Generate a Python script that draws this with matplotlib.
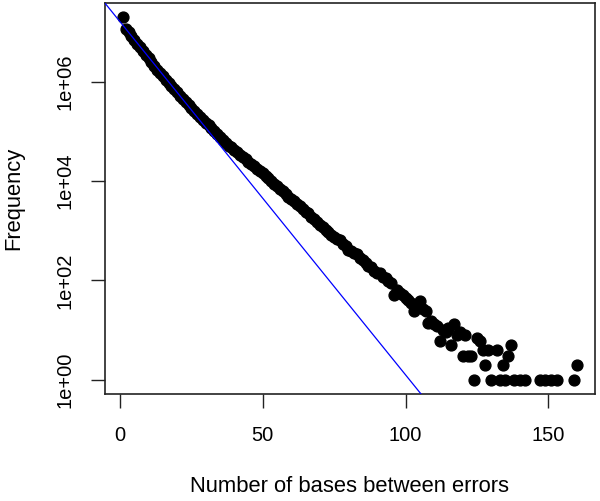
import numpy as np
import matplotlib
matplotlib.use("Agg")
import matplotlib.pyplot as plt

# distance between errors (bases) and how often it was seen
gap_dense = list(range(1, 91))
freq_dense = [
    2.0e7, 1.17e7, 1.0e7, 8.3e6, 7.0e6, 5.9e6, 4.95e6, 4.17e6, 3.5e6, 2.95e6,
    2.48e6, 2.09e6, 1.76e6, 1.48e6, 1.29e6, 1.10e6, 9.5e5, 8.1e5, 7.1e5, 6.2e5,
    5.2e5, 4.6e5, 3.9e5, 3.4e5, 2.95e5, 2.57e5, 2.24e5, 1.95e5, 1.70e5, 1.51e5,
    1.32e5, 1.15e5, 1.0e5, 8.7e4, 7.6e4, 6.8e4, 5.9e4, 5.2e4, 4.8e4, 4.3e4,
    3.8e4, 3.4e4, 3.1e4, 2.75e4, 2.45e4, 2.24e4, 2.0e4, 1.78e4, 1.62e4, 1.45e4,
    1.29e4, 1.15e4, 1.0e4, 8900, 7900, 7100, 6300, 5600, 4900, 4400,
    3900, 3500, 3100, 2700, 2400, 2250, 1900, 1700, 1480, 1280,
    1170, 1050, 930, 830, 740, 680, 640, 550, 490, 420,
    400, 355, 340, 290, 260, 220, 200, 190, 158, 141,
]
gap_tail = [91, 92, 93, 94, 95, 96, 97, 98, 99, 100,
            101, 102, 103, 104, 105, 106, 107, 108, 109, 110,
            111, 112, 113, 114, 115, 116, 117, 118, 119, 120,
            121, 122, 123, 124, 125, 126, 127, 128, 129, 130,
            132, 133, 134, 135, 136, 137, 138, 140, 142, 147,
            149, 151, 153, 159, 160]
freq_tail = [141, 118, 112, 98, 89, 52, 63, 56, 50, 45,
             41, 35, 24, 31, 39, 27, 24, 14, 15, 13,
             12, 6, 10, 9, 11, 5, 13, 8, 9, 3,
             8, 3, 3, 1, 7, 6, 4, 2, 4, 1,
             4, 1, 2, 1, 3, 5, 1, 1, 1, 1,
             1, 1, 1, 1, 2]

# fitted geometric model: log10(freq) = fit_a + fit_b * gap
fit_a = 7.21
fit_b = -0.0711

gaps = np.array(gap_dense + gap_tail)
freqs = np.array(freq_dense + freq_tail, dtype=float)

plt.rcParams["font.family"] = ["Liberation Sans", "DejaVu Sans"]

fig = plt.figure(figsize=(6, 5.01), dpi=100)
ax = fig.add_axes([104.7 / 600, 1 - 394.3 / 501, (595 - 104.7) / 600, (394.3 - 2.7) / 501])

ax.plot(gaps, freqs, "o", color="black", markersize=7.8, zorder=2)

xx = np.array([-20.0, 200.0])
ax.plot(xx, 10 ** (fit_a + fit_b * xx), color="blue", linewidth=0.9, zorder=3)

ax.set_yscale("log")
# R style 4% padding
xr = gaps.max() - gaps.min()
ax.set_xlim(gaps.min() - 0.04 * xr, gaps.max() + 0.04 * xr)
ly = np.log10(freqs)
yr = ly.max() - ly.min()
ax.set_ylim(10 ** (ly.min() - 0.04 * yr), 10 ** (ly.max() + 0.04 * yr))

ax.set_xticks([0, 50, 100, 150])
ax.set_xticklabels(["0", "50", "100", "150"])
ax.set_yticks([1, 1e2, 1e4, 1e6])
ax.set_yticklabels(["1e+00", "1e+02", "1e+04", "1e+06"], rotation=90, va="center")
ax.minorticks_off()
ax.tick_params(axis="both", length=10, width=1.0, labelsize=14.5, color="#222222")
ax.tick_params(axis="x", pad=13)
ax.tick_params(axis="y", pad=12)
for s in ax.spines.values():
    s.set_linewidth(1.2)
    s.set_color("#222222")

fig.text(350 / 600, 1 - 487 / 501, "Number of bases between errors",
         ha="center", va="center", fontsize=15.8)
fig.text(14 / 600, 1 - 198.5 / 501, "Frequency", rotation=90,
         ha="center", va="center", fontsize=15.8)

fig.savefig("out.png", dpi=100)
